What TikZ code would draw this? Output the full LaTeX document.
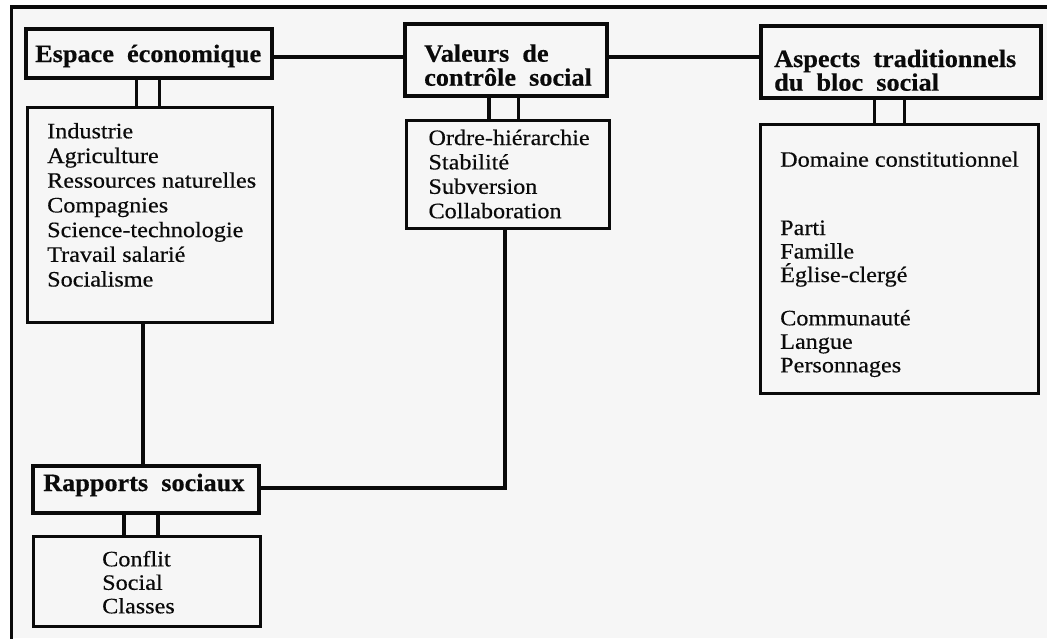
\documentclass[tikz,border=0pt]{standalone}
\usepackage{fontspec}
\setmainfont{Liberation Serif}
\newfontfamily\bodyfont[FakeStretch=1.1,FakeBold=0.4]{Liberation Serif}
\newfontfamily\headfont[FakeStretch=1.05,WordSpace=2,FakeBold=0.5]{Liberation Serif}
\definecolor{ink}{HTML}{0A0A0A}
\definecolor{paper}{HTML}{F6F6F6}
% list of items, first baseline on the node's base anchor
\newcommand\bodylines[2][24.4]{\parbox[t]{9cm}{\raggedright\bodyfont\fontsize{22}{#1}\selectfont #2}}
% bold heading text
\newcommand\headlines[2][23]{\parbox[t]{9cm}{\raggedright\headfont\bfseries\fontsize{25}{#1}\selectfont #2}}
\begin{document}
\begin{tikzpicture}[x=1pt,y=-1pt,
  hbox/.style={draw=ink, line width=3.6pt, inner sep=0pt},
  lbox/.style={draw=ink, line width=2.6pt, inner sep=0pt},
  conn/.style={draw=ink, line width=3.1pt},
  txt/.style={inner sep=0pt, anchor=base west, text=ink},
  frame/.style={draw=ink, line width=3.6pt}]
\useasboundingbox (0,0) rectangle (1047,638);
\fill[white] (0,0) rectangle (1047,638);
\fill[paper] (11.5,7.2) rectangle (1047,638);
\clip (0,0) rectangle (1047,638);
\draw[frame] (11.5,645) -- (11.5,7.2) -- (1055,7.2);

% heading boxes
\node[hbox, minimum width=246.4, minimum height=49.4] (ecoH) at (149,53.5) {};
\node[hbox, minimum width=202.4, minimum height=72.4] (valH) at (506,60) {};
\node[hbox, minimum width=280.4, minimum height=72.4] (aspH) at (901,62) {};
\node[hbox, minimum width=226.4, minimum height=47.4] (rapH) at (146,489.5) {};

% item boxes
\node[lbox, minimum width=245.4, minimum height=215.4] (ecoL) at (150,215) {};
\node[lbox, minimum width=203.4, minimum height=108.4] (valL) at (508,174.5) {};
\node[lbox, minimum width=278.4, minimum height=269.4] (aspL) at (899.5,259) {};
\node[lbox, minimum width=227.4, minimum height=90.4] (rapL) at (147,581.5) {};

% headings
\node[txt] (ecoHt) at (35,62) {\headlines{Espace économique}};
\node[txt] (valHt) at (424,61.7) {\headlines[24]{Valeurs de\\contrôle social}};
\node[txt] (aspHt) at (774,67) {\headlines[20.5]{Aspects traditionnels\\du bloc social}};
\node[txt] (rapHt) at (43,491) {\headlines{Rapports sociaux}};

% items
\node[txt] (ecoLt) at (47,138.3) {\bodylines[24.7]{Industrie\\Agriculture\\Ressources naturelles\\Compagnies\\Science-technologie\\Travail salarié\\Socialisme}};
\node[txt] (valLt) at (428.3,145) {\bodylines{Ordre-hiérarchie\\Stabilité\\Subversion\\Collaboration}};
\node[txt] (aspLt) at (780,166.7) {\bodylines[23.5]{Domaine constitutionnel\\[44.8pt]Parti\\Famille\\Église-clergé\\[19.8pt]Communauté\\Langue\\Personnages}};
\node[txt] (rapLt) at (102,566.3) {\bodylines[23.5]{Conflit\\Social\\Classes}};

% connector positions
\path (136.5,0) coordinate (e1) (159.5,0) coordinate (e2)
      (489,0) coordinate (v1) (518.3,0) coordinate (v2)
      (874.7,0) coordinate (a1) (904.7,0) coordinate (a2)
      (124,0) coordinate (r1) (158,0) coordinate (r2)
      (0,57) coordinate (top) (143,0) coordinate (down) (505,488) coordinate (bend);

% double links between each heading and its items
\foreach \h/\l/\c in {ecoH/ecoL/e1, ecoH/ecoL/e2, valH/valL/v1, valH/valL/v2,
                      aspH/aspL/a1, aspH/aspL/a2, rapH/rapL/r1, rapH/rapL/r2}
  \draw[conn] (\h.south -| \c) -- (\l.north -| \c);

% links between the blocks
\draw[conn] (ecoH.east |- top) -- (valH.west |- top);
\draw[conn] (valH.east |- top) -- (aspH.west |- top);
\draw[conn] (ecoL.south -| down) -- (rapH.north -| down);
\draw[conn] (valL.south -| bend) |- (rapH.east |- bend);
\end{tikzpicture}
\end{document}
